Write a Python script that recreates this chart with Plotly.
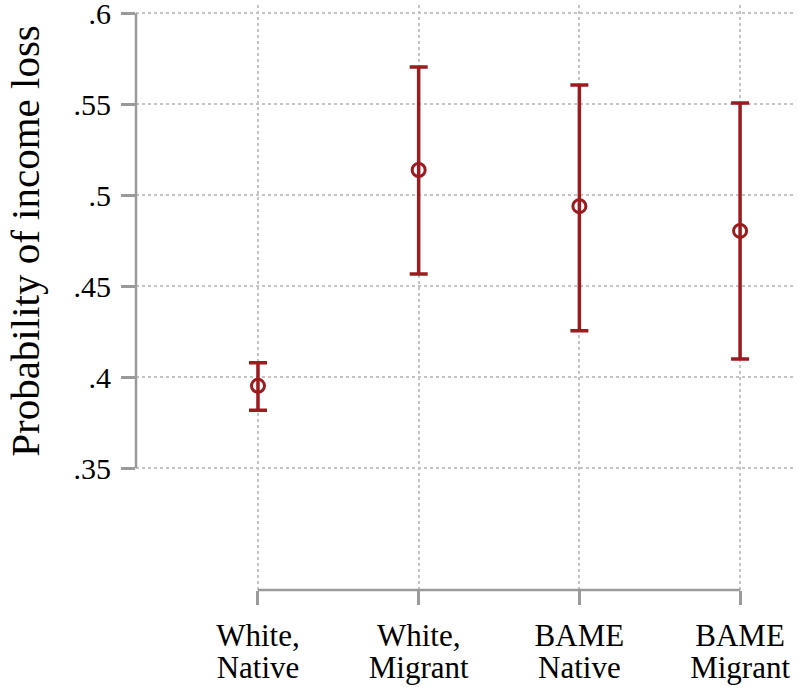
import plotly.graph_objects as go

# groups and estimates
group_line1 = ["White,", "White,", "BAME", "BAME"]
group_line2 = ["Native", "Migrant", "Native", "Migrant"]
prob = [0.3953, 0.5139, 0.4940, 0.4804]
ci_low = [0.3819, 0.4568, 0.4255, 0.4101]
ci_high = [0.4080, 0.5705, 0.5606, 0.5507]
ytick_vals = [0.35, 0.40, 0.45, 0.50, 0.55, 0.60]
ytick_text = [".35", ".4", ".45", ".5", ".55", ".6"]
ytitle = "Probability of income loss"

red = "#9c1b1f"
axis_grey = "#9a9a9a"
grid_grey = "#c4c4c4"
font_fam = "Liberation Serif, Times New Roman, serif"

xpos = list(range(len(group_line1)))
err_plus = [h - p for h, p in zip(ci_high, prob)]
err_minus = [p - l for p, l in zip(prob, ci_low)]
xrange = [-0.759, 3.348]

fig = go.Figure()
fig.add_trace(go.Scatter(
    x=xpos, y=prob, mode="markers",
    marker=dict(symbol="circle-open", size=13, color=red, line=dict(width=3, color=red)),
    error_y=dict(type="data", array=err_plus, arrayminus=err_minus,
                 color=red, thickness=3.5, width=9),
    showlegend=False, hoverinfo="skip",
))
# invisible helper so the second label row (overlaid x axis) gets drawn
fig.add_trace(go.Scatter(x=xpos, y=prob, xaxis="x2", mode="none",
                         showlegend=False, hoverinfo="skip"))

# axis lines only span the ticks / categories (Stata look)
fig.add_shape(type="line", xref="paper", yref="y", x0=0, x1=0,
              y0=ytick_vals[0], y1=ytick_vals[-1],
              line=dict(color=axis_grey, width=2.5))
fig.add_shape(type="line", xref="x", yref="paper", x0=xpos[0], x1=xpos[-1],
              y0=0, y1=0, line=dict(color=axis_grey, width=2.5))

# y title centred on the drawn axis segment, like Stata does
fig.add_annotation(text=ytitle, textangle=-90, showarrow=False,
                   xref="paper", x=0, xshift=-111, xanchor="center",
                   yref="y", y=(ytick_vals[0] + ytick_vals[-1]) / 2, yanchor="middle",
                   font=dict(size=41, family=font_fam, color="black"))

fig.update_layout(
    width=798, height=687,
    margin=dict(l=136, r=2, t=5, b=97),
    paper_bgcolor="white", plot_bgcolor="white",
    font=dict(family=font_fam, color="black"),
    xaxis=dict(
        range=xrange, tickvals=xpos, ticktext=group_line1,
        ticks="outside", ticklen=14, tickwidth=2.5, tickcolor=axis_grey,
        tickfont=dict(size=31, family=font_fam), ticklabelstandoff=4,
        ticklabeloverflow="allow", automargin=False,
        showline=False, zeroline=False,
        showgrid=True, gridcolor=grid_grey, gridwidth=1.5, griddash="dot",
    ),
    xaxis2=dict(
        overlaying="x", side="bottom", anchor="y",
        range=xrange, tickvals=xpos, ticktext=group_line2,
        ticks="",
        tickfont=dict(size=31, family=font_fam), ticklabelstandoff=56,
        ticklabeloverflow="allow", automargin=False,
        showline=False, zeroline=False, showgrid=False,
    ),
    yaxis=dict(
        range=[0.2831, 0.60456], tickvals=ytick_vals, ticktext=ytick_text,
        ticks="outside", ticklen=14, tickwidth=2.5, tickcolor=axis_grey,
        tickfont=dict(size=30, family=font_fam), ticklabelstandoff=4,
        ticklabeloverflow="allow", automargin=False,
        showline=False, zeroline=False,
        showgrid=True, gridcolor=grid_grey, gridwidth=1.5, griddash="dot",
    ),
)

# drop the default page margin so the figure sits at the top-left corner
fig.write_html("out.html", config={"displayModeBar": False},
               post_script="document.body.style.margin='0';")
